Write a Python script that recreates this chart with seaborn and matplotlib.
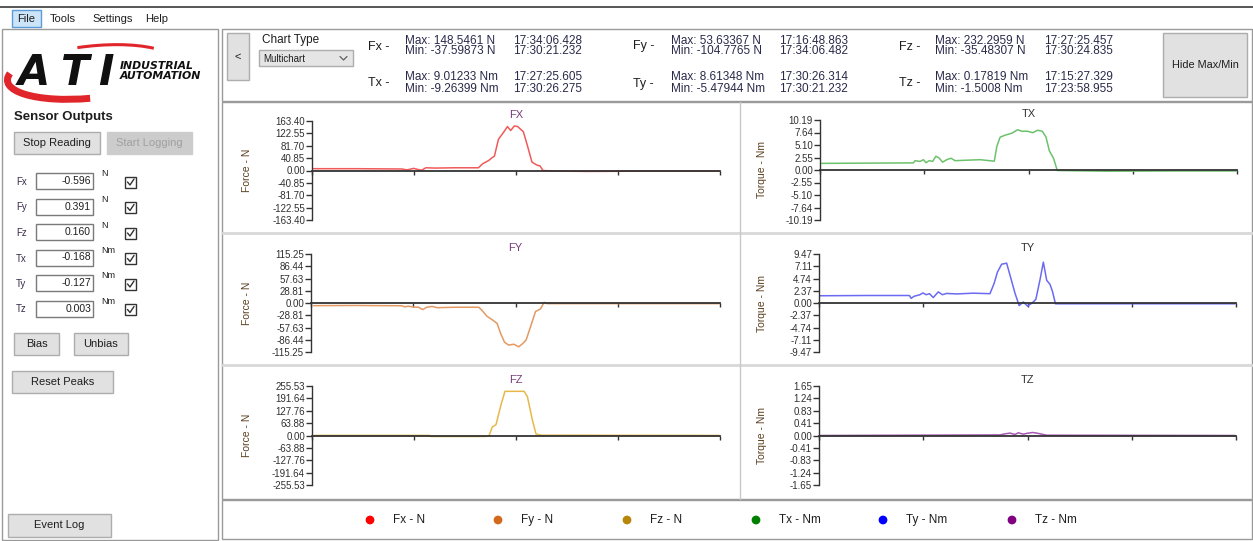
import numpy as np
import matplotlib
matplotlib.use("Agg")
import matplotlib.pyplot as plt
import seaborn as sns
from matplotlib.patches import Rectangle, Arc

# ---------------- data ----------------
fx_x = [0.4, 10.6, 22.0, 23.3, 24.9, 26.1, 26.9, 27.9, 30.2, 35.1, 40.8, 41.8, 43.3, 44.2, 44.7, 45.7,
        46.9, 47.9, 48.7, 49.6, 50.4, 51.8, 52.8, 53.9, 55.1, 55.9, 56.6, 59.6, 67.8, 84.1, 99.8]
fx_y = [6, 6, 5, 2, 7, 3, 1, 9, 8, 9, 9, 22, 33, 43, 47, 103,
        125, 145, 132, 147, 145, 128, 82, 28, 18, 15, 0, -2, -3, -2, -2]

fy_x = [0.6, 10.8, 22.2, 22.9, 23.8, 25.1, 26.3, 27.3, 28.3, 29.6, 30.8, 35.3, 41.0, 41.8, 43.0, 44.4,
        45.5, 46.3, 47.3, 48.3, 49.6, 50.8, 51.8, 52.6, 53.6, 54.9, 56.1, 57.0, 57.7, 76.1, 99.8]
fy_y = [-6.2, -5.8, -6.5, -9, -7.5, -9.5, -10, -15.5, -10, -8, -11, -10, -10, -17, -31, -40,
        -48, -70, -92, -99, -97, -103, -95, -87, -58, -20, -14, 1.5, -1.5, -1.5, -1.5]

fz_x = [0.6, 28.7, 29.1, 42.6, 43.4, 44.2, 45.1, 46.3, 47.3, 52.0, 52.8, 54.0, 54.9, 56.1, 99.8]
fz_y = [0.5, 0.5, -5, -5, 0, 44, 56, 157, 228, 228, 200, 81, 8, 1.7, 0.3]

tx_x = [0.4, 11.2, 22.4, 22.8, 24.0, 24.8, 25.4, 26.2, 27.0, 27.8, 28.5, 29.4, 30.4, 31.4, 32.4, 35.2,
        38.4, 41.8, 42.4, 43.2, 44.4, 46.0, 47.4, 48.4, 49.8, 51.0, 52.2, 53.3, 54.2, 55.0, 56.0, 56.9,
        68.8, 84.8, 99.8]
tx_y = [1.35, 1.4, 1.45, 1.9, 1.75, 2.1, 1.5, 1.9, 1.75, 2.8, 2.5, 1.6, 2.1, 2.4, 1.9, 2.0,
        2.1, 1.8, 4.8, 6.7, 7.1, 7.5, 8.2, 7.9, 7.9, 7.6, 8.1, 7.9, 6.7, 3.9, 2.4, -0.1,
        -0.25, -0.2, -0.2]

ty_x = [0.2, 11.4, 21.7, 22.1, 22.8, 24.2, 24.9, 25.7, 26.5, 27.4, 28.6, 29.6, 30.6, 33.0, 37.0, 41.0,
        42.0, 42.8, 43.8, 45.0, 45.9, 47.0, 48.0, 49.0, 50.0, 51.1, 52.0, 53.0, 53.8, 54.6, 55.4, 56.0,
        56.7, 77.0, 99.8]
ty_y = [1.4, 1.45, 1.45, 0.9, 1.3, 1.6, 1.95, 1.6, 1.8, 1.05, 2.15, 1.6, 1.85, 1.75, 1.9, 1.8,
        3.8, 6.0, 7.5, 7.7, 5.1, 1.9, -0.5, 0.2, -0.6, 0.0, 0.7, 4.5, 7.9, 4.4, 3.6, 2.2,
        -0.15, -0.15, -0.15]

tz_x = [0.2, 43.4, 44.6, 45.8, 47.0, 47.8, 49.0, 50.0, 51.2, 52.2, 53.4, 54.6, 99.8]
tz_y = [0.0, 0.02, 0.055, 0.08, 0.035, 0.09, 0.045, 0.075, 0.1, 0.08, 0.045, 0.01, 0.0]

chart_titles = ['FX', 'FY', 'FZ', 'TX', 'TY', 'TZ']
axis_max = [163.40, 115.252, 255.526, 10.192, 9.474, 1.652]
y_labels = ['Force - N', 'Force - N', 'Force - N', 'Torque - Nm', 'Torque - Nm', 'Torque - Nm']
line_colors = ['#f05a5a', '#e39a62', '#e6b84a', '#6cc26c', '#6a6af2', '#a458b0']

legend_labels = ['Fx - N', 'Fy - N', 'Fz - N', 'Tx - Nm', 'Ty - Nm', 'Tz - Nm']
legend_colors = ['#ff0000', '#d2691e', '#b8860b', '#008000', '#0000ff', '#800080']

sensor_names = ['Fx', 'Fy', 'Fz', 'Tx', 'Ty', 'Tz']
sensor_values = ['-0.596', '0.391', '0.160', '-0.168', '-0.127', '0.003']
sensor_units = ['N', 'N', 'N', 'Nm', 'Nm', 'Nm']

stat_names = ['Fx -', 'Fy -', 'Fz -', 'Tx -', 'Ty -', 'Tz -']
stat_max = ['Max: 148.5461 N', 'Max: 53.63367 N', 'Max: 232.2959 N',
            'Max: 9.01233 Nm', 'Max: 8.61348 Nm', 'Max: 0.17819 Nm']
stat_min = ['Min: -37.59873 N', 'Min: -104.7765 N', 'Min: -35.48307 N',
            'Min: -9.26399 Nm', 'Min: -5.47944 Nm', 'Min: -1.5008 Nm']
stat_max_t = ['17:34:06.428', '17:16:48.863', '17:27:25.457',
              '17:27:25.605', '17:30:26.314', '17:15:27.329']
stat_min_t = ['17:30:21.232', '17:34:06.482', '17:30:24.835',
              '17:30:26.275', '17:30:21.232', '17:23:58.955']

menu_items = ['File', 'Tools', 'Settings', 'Help']

# ---------------- figure ----------------
sns.set_theme(style="ticks")
plt.rcParams['font.family'] = ['Liberation Sans', 'DejaVu Sans']

W, H = 1253, 541
fig = plt.figure(figsize=(W / 100, H / 100), dpi=100)
fig.patch.set_facecolor('white')
ui = fig.add_axes([0, 0, 1, 1])
ui.set_xlim(0, W)
ui.set_ylim(H, 0)
ui.axis('off')

TXT = '#1e1e1e'
STAT = '#2a2a4a'


def box(x0, y0, x1, y1, fc='none', ec='#a0a0a0', lw=1.0, z=1):
    ui.add_patch(Rectangle((x0, y0), x1 - x0, y1 - y0, facecolor=fc, edgecolor=ec, linewidth=lw, zorder=z))


def button(x0, y0, x1, y1, label, fs=8, color=TXT, fc='#e1e1e1', ec='#adadad'):
    box(x0, y0, x1, y1, fc=fc, ec=ec, lw=1.0, z=2)
    ui.text((x0 + x1) / 2, (y0 + y1) / 2, label, fontsize=fs, color=color, ha='center', va='center', zorder=3)


# top line and menu
ui.plot([0, W], [7, 7], color='#3a3a3a', lw=1.2)
box(12, 10, 41, 27, fc='#cce4f7', ec='#5a9bd8', lw=1)
for lab, xx in zip(menu_items, [17, 50, 92, 145]):
    ui.text(xx, 18.5, lab, fontsize=8, color=TXT, va='center', ha='left', zorder=3)

# left panel
box(2, 29, 218, 540, ec='#9a9a9a')
# logo swoosh (thin top arc, thick lower-left crescent)
ui.add_patch(Arc((92, 72), 170, 52, angle=-6, theta1=245, theta2=345, color='#e0262b', lw=2.2, zorder=2))
ui.add_patch(Arc((92, 72), 170, 52, angle=-6, theta1=100, theta2=185, color='#e0262b', lw=5, zorder=2))
for ch, xx in zip(['A', 'T', 'I'], [34, 75, 106]):
    ui.text(xx, 73, ch, fontsize=30, fontweight='heavy', style='italic', color='#101010',
            ha='center', va='center', family='DejaVu Sans', zorder=4)
ui.text(120, 66, 'INDUSTRIAL', fontsize=7.8, fontweight='bold', style='italic', color='#101010',
        ha='left', va='center', family='DejaVu Sans', zorder=4)
ui.text(120, 76, 'AUTOMATION', fontsize=7.8, fontweight='bold', style='italic', color='#101010',
        ha='left', va='center', family='DejaVu Sans', zorder=4)

ui.text(14, 117, 'Sensor Outputs', fontsize=9.5, fontweight='bold', color=TXT, va='center')
button(14, 132, 100, 154, 'Stop Reading')
button(107, 132, 192, 154, 'Start Logging', color='#a0a0a0', fc='#cccccc', ec='#cccccc')

for i, (nm, val, un) in enumerate(zip(sensor_names, sensor_values, sensor_units)):
    y0 = 173 + i * 25.5
    ui.text(16, y0 + 9, nm, fontsize=7, color='#3a2a4a', va='center')
    box(36, y0, 93, y0 + 16, fc='white', ec='#7a7a7a', z=2)
    ui.text(91, y0 + 8, val, fontsize=7.5, color=TXT, ha='right', va='center', zorder=3)
    ui.text(101, y0 + 1, un, fontsize=6.5, color=TXT, ha='left', va='center')
    box(125, y0 + 3.5, 136, y0 + 14.5, fc='white', ec='#333333', z=2)
    ui.plot([127.5, 130, 134], [y0 + 9, y0 + 12, y0 + 6], color='#333333', lw=1, zorder=3)

button(14, 333, 59, 355, 'Bias')
button(74, 333, 128, 355, 'Unbias')
button(12, 371, 113, 393, 'Reset Peaks')
button(8, 514, 111, 537, 'Event Log')

# header area
box(222, 29, 1252, 101, ec='#9a9a9a')
button(227, 33, 249, 80, '<', fs=8)
ui.text(262, 40.5, 'Chart Type', fontsize=8.5, color=TXT, va='center')
box(259, 50, 353, 66, fc='#e5e5e5', ec='#adadad', z=2)
ui.text(263, 58.5, 'Multichart', fontsize=7, color=TXT, va='center', zorder=3)
ui.plot([340, 343.5, 347], [56.5, 60, 56.5], color='#606060', lw=0.9, zorder=3)

sec_label_x = [368, 633, 899]
sec_val_x = [405, 671, 935]
sec_time_x = [513, 779, 1044]
for k in range(6):
    col = k % 3
    row = k // 3
    ymx = 40.5 if row == 0 else 77
    ymn = 51.5 if row == 0 else 88.5
    ylb = 46.5 if row == 0 else 83.5
    ui.text(sec_label_x[col], ylb, stat_names[k], fontsize=9, color=TXT, va='center')
    ui.text(sec_val_x[col], ymx, stat_max[k], fontsize=8.5, color=STAT, va='center')
    ui.text(sec_val_x[col], ymn, stat_min[k], fontsize=8.5, color=STAT, va='center')
    ui.text(sec_time_x[col], ymx, stat_max_t[k], fontsize=8.5, color=STAT, va='center')
    ui.text(sec_time_x[col], ymn, stat_min_t[k], fontsize=8.5, color=STAT, va='center')
button(1163, 33, 1247, 97, 'Hide Max/Min', fs=7.8)

# chart area frame
box(222, 102, 1252, 499, ec='#9a9a9a')
ui.plot([222, 1252], [233, 233], color='#d8d8d8', lw=2)
ui.plot([222, 1252], [365, 365], color='#d8d8d8', lw=2)
ui.plot([740, 740], [102, 499], color='#c8c8c8', lw=1)
# legend area
box(222, 500, 1252, 539, ec='#9a9a9a')
leg_x = [370, 498, 627, 756, 883, 1012]
ui.scatter(leg_x, [520] * 6, s=28, c=legend_colors, zorder=3)
for lx, lab in zip(leg_x, legend_labels):
    ui.text(lx + 23, 520, lab, fontsize=8.5, color=TXT, va='center')

# ---------------- charts ----------------
series_x = [fx_x, fy_x, fz_x, tx_x, ty_x, tz_x]
series_y = [fx_y, fy_y, fz_y, tx_y, ty_y, tz_y]
rects = [(312, 121, 720, 220), (311, 254, 720, 352), (312, 386, 720, 485),
         (820, 120, 1237, 220), (819, 254, 1236, 352), (819, 386, 1236, 485)]
ylabel_x = [252, 252, 252, 767, 767, 767]
title_colors = ['#7a3a7a', '#7a3a7a', '#7a3a7a', '#333333', '#333333', '#333333']

for i in range(6):
    l, t, r, b = rects[i]
    ax = fig.add_axes([l / W, 1 - b / H, (r - l) / W, (b - t) / H])
    ax.set_facecolor('none')
    sns.lineplot(x=series_x[i], y=series_y[i], ax=ax, color=line_colors[i], linewidth=1.1, zorder=2)
    M = axis_max[i]
    ax.set_xlim(0, 100)
    ax.set_ylim(-M, M)
    for s in ['top', 'right']:
        ax.spines[s].set_visible(False)
    ax.spines['bottom'].set_position(('data', 0))
    ax.spines['bottom'].set_color('#333333')
    ax.spines['bottom'].set_linewidth(1.3)
    ax.spines['bottom'].set_zorder(3)
    ax.spines['left'].set_color('#333333')
    ax.spines['left'].set_linewidth(1.0)
    ax.set_xticks([0, 25, 50, 75, 100])
    ax.set_xticklabels([])
    ticks = np.linspace(-M, M, 9)
    ax.set_yticks(ticks)
    ax.set_yticklabels(['%.2f' % (0.0 if abs(v) < 1e-9 else v) for v in ticks])
    ax.tick_params(axis='x', direction='out', length=3, width=1, color='#333333', bottom=True)
    ax.tick_params(axis='y', direction='out', length=4, width=1, color='#333333', left=True,
                   labelsize=7, labelcolor='#303030', pad=1)
    ax.set_xlabel('')
    ax.set_ylabel(y_labels[i], fontsize=7.5, color='#5a4020')
    ax.yaxis.set_label_coords((ylabel_x[i] - l) / (r - l), 0.5)
    ax.text(0.5, 1 + 6 / (b - t), chart_titles[i], transform=ax.transAxes, ha='center', va='center',
            fontsize=8, color=title_colors[i])

fig.savefig('out.png', dpi=100, facecolor='white')
